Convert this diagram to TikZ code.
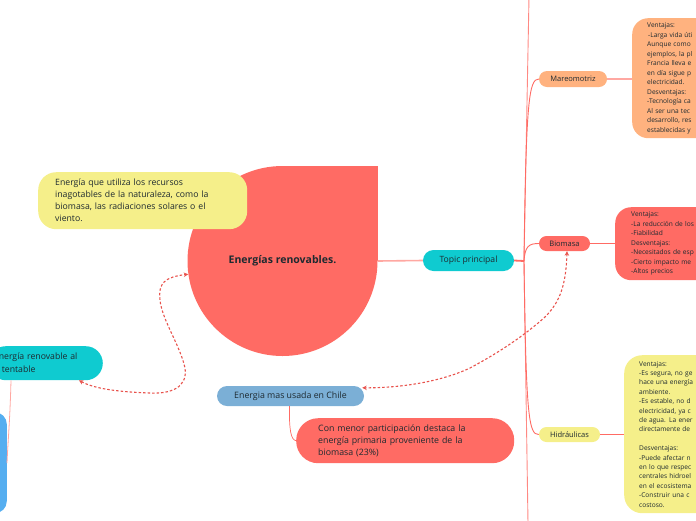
\documentclass[tikz,border=0pt]{standalone}
\usepackage{fontspec}
\setmainfont{Open Sans}
\usetikzlibrary{arrows.meta}
\definecolor{redc}{HTML}{FF6B64}
\definecolor{peach}{HTML}{FFB27F}
\definecolor{yellowc}{HTML}{F5EF8A}
\definecolor{tealc}{HTML}{0FCBD0}
\definecolor{steel}{HTML}{7BAFD6}
\definecolor{bblue}{HTML}{55AEF0}
\definecolor{txt}{HTML}{1E2A30}
\definecolor{linec}{HTML}{FF6B64}
\definecolor{linelight}{HTML}{FFA8A2}
\definecolor{dashc}{HTML}{E8524C}
\begin{document}
\begin{tikzpicture}[x=1pt,y=-1pt,
  pill/.style={inner sep=0pt, text=txt, align=center},
  descbox/.style={anchor=north west, text=txt, align=left, inner ysep=0pt},
  smalltext/.style={font=\fontsize{6.6}{9.5}\selectfont},
  conn/.style={draw=linec, line width=0.9pt},
  dashlink/.style={draw=dashc, line width=1.1pt, dash pattern=on 2.5pt off 2pt, {Stealth[length=4.5pt,width=4.5pt]}-{Stealth[length=4.5pt,width=4.5pt]}}
]
\useasboundingbox (0,0) rectangle (696,520);
\clip (0,0) rectangle (696,520);

% trunk
\coordinate (trunk) at (524,261);
\coordinate (ttop) at (529,-3);
\coordinate (tbot) at (528,523);
\draw[conn, draw=linec!80] (trunk) -- (ttop);
\draw[conn, draw=linec!80] (trunk) -- (tbot);

% right nodes
\node (mareo) [pill, fill=peach, rounded corners=8pt, minimum width=68pt, minimum height=16pt, font=\fontsize{7.5}{9}\selectfont] at (573,79) {Mareomotriz};
\node (bio) [pill, fill=redc, rounded corners=7.5pt, minimum width=51pt, minimum height=15pt, font=\fontsize{7.5}{9}\selectfont] at (564.5,243.5) {Biomasa};
\node (hid) [pill, fill=yellowc, rounded corners=7.5pt, minimum width=61pt, minimum height=15pt, font=\fontsize{7.5}{9}\selectfont] at (569.5,434.5) {Hidráulicas};

\node (mbox) [descbox, smalltext, fill=peach, rounded corners=16pt, minimum height=120pt, inner xsep=15pt, text width=150pt] at (632,18)
{Ventajas:\\
\hspace*{1pt}-Larga vida úti\\
Aunque como\\
ejemplos, la pl\\
Francia lleva e\\
en día sigue p\\
electricidad.\\
Desventajas:\\
-Tecnología ca\\
Al ser una tec\\
desarrollo, res\\
establecidas y};

\node (bbox) [descbox, smalltext, fill=redc, rounded corners=16pt, minimum height=73pt, inner xsep=16pt, text width=150pt] at (615,207)
{Ventajas:\\
-La reducción de los\\
-Fiabilidad\\
Desventajas:\\
-Necesitados de esp\\
-Cierto impacto me\\
-Altos precios};

\node (hbox) [descbox, font=\fontsize{6.6}{9.4}\selectfont, fill=yellowc, rounded corners=18pt, minimum height=158pt, inner xsep=15pt, text width=150pt] at (624,355)
{Ventajas:\\
-Es segura, no ge\\
hace una energía\\
ambiente.\\
-Es estable, no d\\
electricidad, ya c\\
de agua. La ener\\
directamente de\\[9.4pt]
Desventajas:\\
-Puede afectar n\\
en lo que respec\\
centrales hidroel\\
en el ecosistema\\
-Construir una c\\
costoso.};

% branch curves
\draw[conn] (trunk) .. controls (526,100) and (529,79) .. (mareo.west);
\draw[conn] (trunk) .. controls (525,246) and (529,243.5) .. (bio.west);
\draw[conn] (trunk) .. controls (526,420) and (529,434.5) .. (hid.west);
\draw[draw=linelight, line width=1.6pt] (mareo.east) -- (mbox.west |- mareo.east);
\draw[conn] (bio.east) -- (bbox.west |- bio.east);
\draw[conn] (hid.east) -- (hbox.west |- hid.east);

% topic
\node (topic) [pill, fill=tealc, rounded corners=10.5pt, minimum width=91pt, minimum height=21pt, font=\fontsize{8.6}{10}\selectfont] at (468.5,260.5) {Topic principal};
\draw[draw=linec, line width=1.8pt] (topic.east) -- (trunk);

% central
\fill[redc] (282,166) rectangle (378,261);
\node (center) [circle, fill=redc, minimum size=190pt, inner sep=0pt, text=txt, font=\fontsize{10.5}{12}\selectfont\bfseries] at (282.5,261) {Energías renovables.};
\draw[draw=linelight, line width=1.6pt] (center.east) -- (topic.west);

% top-left yellow
\node (def) [descbox, fill=yellowc, rounded corners=18pt, minimum height=57pt, inner xsep=17pt, text width=175pt, font=\fontsize{8.7}{12}\selectfont] at (38,172)
{Energía que utiliza los recursos\\
inagotables de la naturaleza, como la\\
biomasa, las radiaciones solares o el\\
viento.};

% left teal and blue
\node (sust) [anchor=north east, fill=tealc, rounded corners=17pt, minimum height=34pt, inner xsep=10pt, inner ysep=0pt, text width=94pt, align=left, text=txt, font=\fontsize{8.7}{13}\selectfont] at (103,346)
{nergía renovable al\\
\hspace*{3pt}tentable};
\node (lblue) [anchor=north east, fill=bblue, rounded corners=12pt, minimum width=40pt, minimum height=101pt, inner sep=0pt] at (7,412) {};
\draw[draw=linelight, line width=0.8pt] ([xshift=-92pt]sust.south east) .. controls (10,420) and (8,440) .. ([shift={(0,51)}]lblue.north east);

% Chile
\node (chile) [pill, fill=steel, rounded corners=10pt, minimum width=147pt, minimum height=20pt, font=\fontsize{8.8}{10}\selectfont] at (290.5,396) {Energia mas usada en Chile};
\node (menor) [descbox, fill=redc, rounded corners=22pt, minimum height=45pt, inner xsep=22pt, text width=174pt, font=\fontsize{8.8}{12}\selectfont] at (296,418)
{Con menor participación destaca la\\
energía primaria proveniente de la\\
biomasa (23\%)};
\draw[conn, line width=0.7pt] ([xshift=-1pt]chile.south) .. controls (289,430) and (291,440) .. (menor.west);

% dashed relations
\draw[dashlink] ([xshift=-24pt]sust.south east) .. controls (95,389) and (120,392) .. (150,393)
  .. controls (170,394) and (188,388) .. (185,368)
  .. controls (180,345) and (162,320) .. (160,300)
  .. controls (158,283) and (165,277) .. (center.188);
\draw[dashlink] ([xshift=2.5pt]bio.south) .. controls (566,285) and (560,302) .. (545,317)
  .. controls (525,335) and (500,352) .. (470,368)
  .. controls (440,382) and (400,388) .. ([shift={(-2,2)}]chile.north east);
\end{tikzpicture}
\end{document}
